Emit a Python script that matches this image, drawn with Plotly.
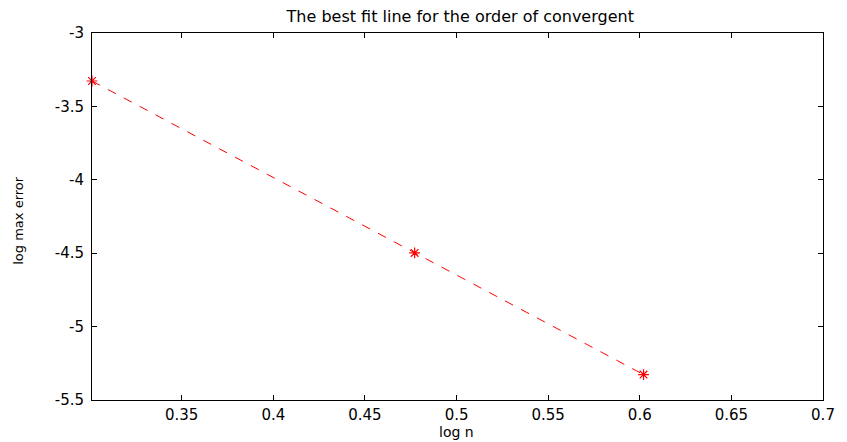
import plotly.graph_objects as go

log_n = [0.30103, 0.47712, 0.60206]
log_err = [-3.327, -4.498, -5.327]
x_ticks = [0.35, 0.4, 0.45, 0.5, 0.55, 0.6, 0.65, 0.7]
x_tick_labels = ["0.35", "0.4", "0.45", "0.5", "0.55", "0.6", "0.65", "0.7"]
y_ticks = [-5.5, -5, -4.5, -4, -3.5, -3]
y_tick_labels = ["-5.5", "-5", "-4.5", "-4", "-3.5", "-3"]

FONT = "DejaVu Sans, Liberation Sans, Arial"

fig = go.Figure()
fig.add_trace(go.Scatter(
    x=log_n, y=log_err, mode="lines+markers",
    line=dict(color="red", width=1, dash="dash"),
    marker=dict(symbol="asterisk", size=9, color="red", line=dict(color="red", width=1.2)),
    cliponaxis=False, showlegend=False,
))

axis_common = dict(
    showgrid=False, zeroline=False, showline=True, linecolor="black", linewidth=1,
    mirror="ticks", ticks="inside", ticklen=5, tickcolor="black",
    tickfont=dict(family=FONT, size=15, color="black"),
)
fig.update_layout(
    width=839, height=434,
    margin=dict(l=84, r=18, t=25, b=42),
    paper_bgcolor="white", plot_bgcolor="white",
    font=dict(family=FONT, color="black"),
    title=dict(text="The best fit line for the order of convergent", x=0.539, xanchor="center",
               y=0.994, yanchor="top", font=dict(size=16)),
    xaxis=dict(range=[0.30103, 0.7], tickvals=x_ticks, ticktext=x_tick_labels,
               ticklabelstandoff=1, **axis_common),
    yaxis=dict(range=[-5.5, -3], tickvals=y_ticks, ticktext=y_tick_labels,
               ticklabelstandoff=4, **axis_common),
    annotations=[
        dict(text="log n", xref="paper", yref="paper", x=0.4993, y=-0.0872,
             xanchor="center", yanchor="middle", showarrow=False,
             font=dict(family=FONT, size=14, color="black")),
        dict(text="log max error", xref="paper", yref="paper", x=-0.1004, y=0.49,
             xanchor="center", yanchor="middle", showarrow=False, textangle=-90,
             font=dict(family=FONT, size=13, color="black")),
    ],
)
fig.write_html("out.html")
